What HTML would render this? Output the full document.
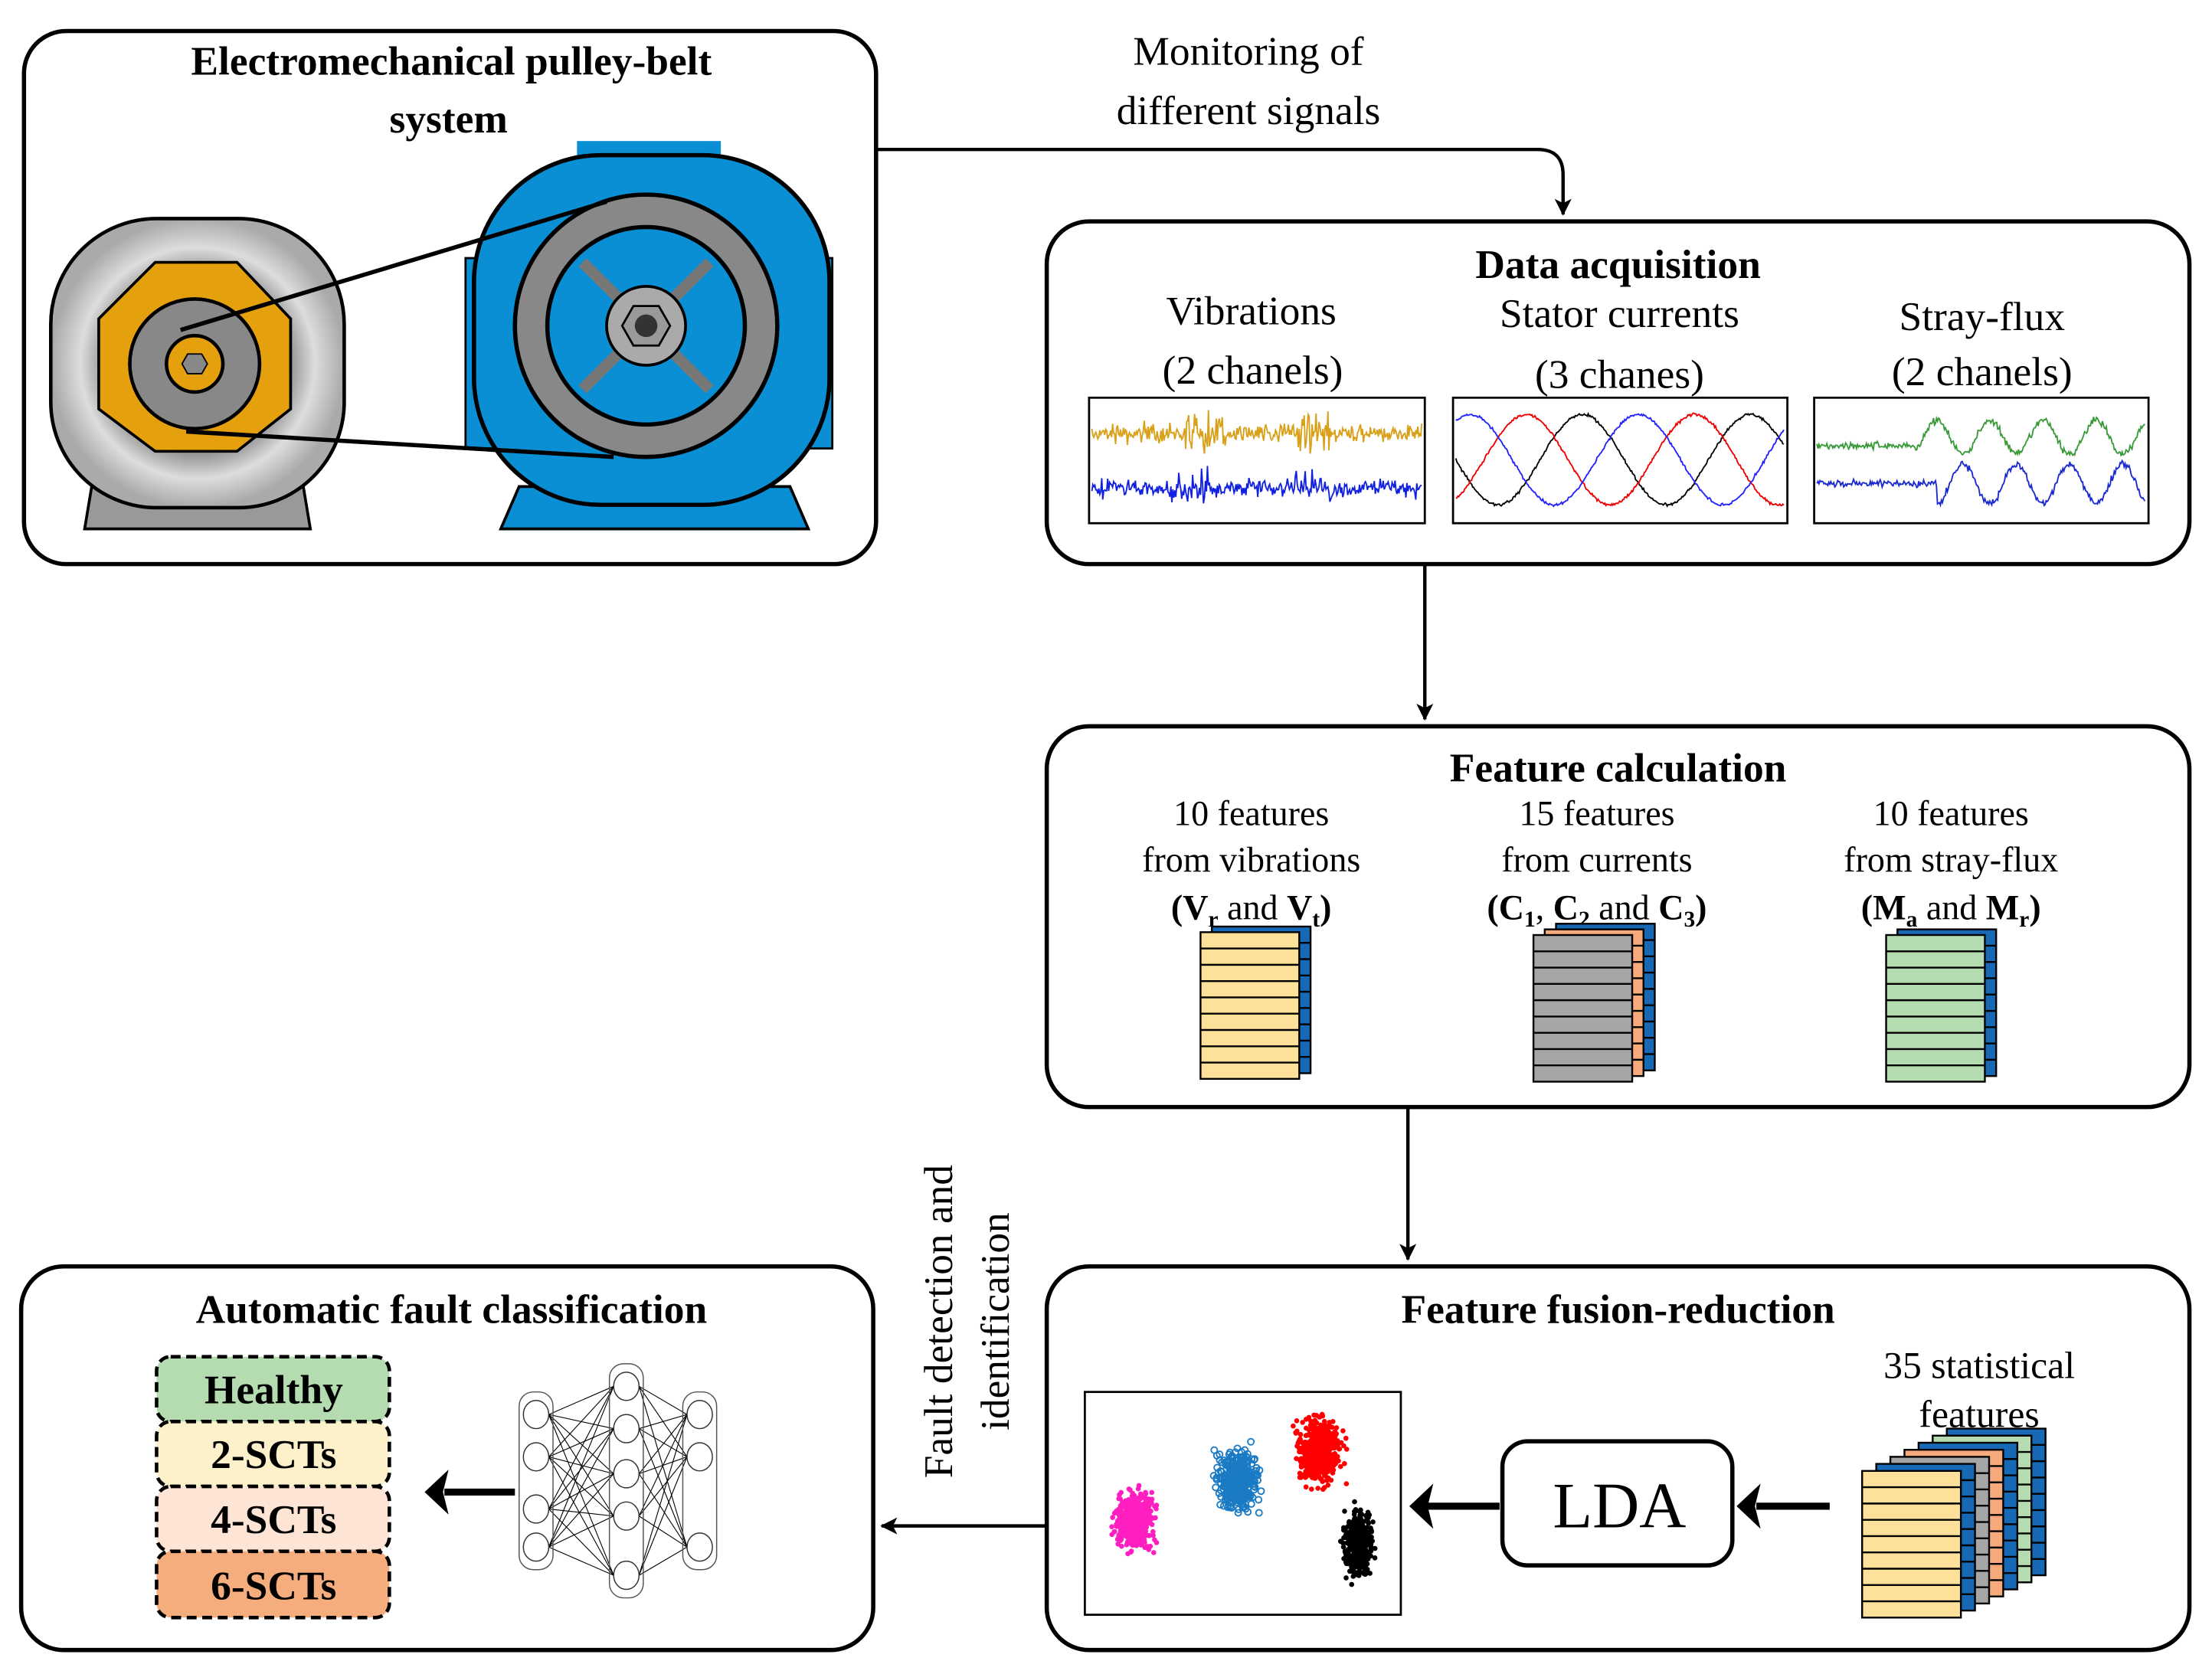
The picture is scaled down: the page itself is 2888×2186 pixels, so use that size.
<!DOCTYPE html>
<html><head><meta charset="utf-8"><style>
html,body{margin:0;padding:0;background:#fff}
svg{display:block}
svg text{font-family:"Liberation Serif","DejaVu Serif",serif;fill:#000}
.b{font-weight:bold}
</style></head><body>
<svg id="s" width="2888" height="2186" viewBox="0 0 1568 1187" preserveAspectRatio="none" xmlns="http://www.w3.org/2000/svg" font-family="Liberation Serif, DejaVu Serif, serif">
<defs>
<marker id="ah" markerWidth="12" markerHeight="12" refX="11" refY="6" orient="auto" markerUnits="userSpaceOnUse"><path d="M0,0 L12,6 L0,12 L3,6 Z" fill="#000"/></marker>
<radialGradient id="gg" cx="0.5" cy="0.5" r="0.5"><stop offset="0.6" stop-color="#888"/><stop offset="0.8" stop-color="#ddd"/><stop offset="1" stop-color="#aaa"/></radialGradient>
</defs>
<g fill="none" stroke="#000" stroke-width="3">
<rect x="17" y="22" width="604" height="378" rx="30"/>
<rect x="742" y="157" width="810" height="243" rx="30"/>
<rect x="742" y="515" width="810" height="270" rx="30"/>
<rect x="742" y="898" width="810" height="272" rx="30"/>
<rect x="15" y="898" width="604" height="272" rx="30"/>
</g>
<g stroke="#000" stroke-width="2.4" fill="none">
<path d="M621,106 H1090 Q1108,106 1108,124 V152" marker-end="url(#ah)"/>
<path d="M1010,400 V510" marker-end="url(#ah)"/>
<path d="M998,785 V893" marker-end="url(#ah)"/>
<path d="M742,1082 H625" marker-end="url(#ah)"/>
</g>
<text x="885" y="46" font-size="29" text-anchor="middle">Monitoring of</text>
<text x="885" y="88" font-size="29" text-anchor="middle">different signals</text>
<text transform="translate(675,937) rotate(-90)" font-size="29" text-anchor="middle">Fault detection and</text>
<text transform="translate(715,937) rotate(-90)" font-size="29" text-anchor="middle">identification</text>

<text class="b" x="320" y="53" font-size="29" text-anchor="middle">Electromechanical pulley-belt</text>
<text class="b" x="318" y="94" font-size="29" text-anchor="middle">system</text>
<path d="M60,375 L65,345 L215,345 L220,375 Z" fill="#999" stroke="#000" stroke-width="2"/>
<rect x="36" y="155" width="208" height="205" rx="75" fill="url(#gg)" stroke="#000" stroke-width="2.5"/>
<polygon points="110,186 168,186 206,226 206,290 168,320 110,320 70,290 70,226" fill="#e5a00d" stroke="#000" stroke-width="2"/>
<circle cx="138" cy="258" r="46" fill="#888" stroke="#000" stroke-width="2.5"/>
<circle cx="138" cy="258" r="20" fill="#e5a00d" stroke="#000" stroke-width="2.5"/>
<polygon points="133,251 143,251 147,258 143,265 133,265 129,258" fill="#888" stroke="#000"/>
<path d="M355,375 L368,345 L560,345 L573,375 Z" fill="#0a8fd4" stroke="#000" stroke-width="2"/>
<rect x="409" y="100" width="102" height="18" fill="#0a8fd4"/>
<rect x="330" y="183" width="20" height="135" fill="#0a8fd4" stroke="#000" stroke-width="1.5"/>
<rect x="570" y="183" width="20" height="135" fill="#0a8fd4" stroke="#000" stroke-width="1.5"/>
<rect x="336" y="110" width="252" height="248" rx="90" fill="#0a8fd4" stroke="#000" stroke-width="3"/>
<circle cx="458" cy="231" r="93" fill="#888" stroke="#000" stroke-width="3"/>
<circle cx="458" cy="231" r="70" fill="#0a8fd4" stroke="#000" stroke-width="3"/>
<g stroke="#777" stroke-width="8"><line x1="413" y1="186" x2="503" y2="276"/><line x1="503" y1="186" x2="413" y2="276"/></g>
<circle cx="458" cy="231" r="28" fill="#aaa" stroke="#000" stroke-width="2"/>
<polygon points="449,217 467,217 475,231 467,245 449,245 441,231" fill="#999" stroke="#000" stroke-width="1.5"/>
<circle cx="458" cy="231" r="8" fill="#333"/>
<g stroke="#000" stroke-width="3"><line x1="128" y1="234" x2="430" y2="143"/><line x1="132" y1="306" x2="435" y2="324"/></g>

<text class="b" x="1147" y="197" font-size="29" text-anchor="middle">Data acquisition</text>
<text x="887" y="230" font-size="29" text-anchor="middle">Vibrations</text>
<text x="888" y="272" font-size="29" text-anchor="middle">(2 chanels)</text>
<text x="1148" y="232" font-size="29" text-anchor="middle">Stator currents</text>
<text x="1148" y="275" font-size="29" text-anchor="middle">(3 chanes)</text>
<text x="1405" y="234" font-size="29" text-anchor="middle">Stray-flux</text>
<text x="1405" y="273" font-size="29" text-anchor="middle">(2 chanels)</text>
<g fill="none" stroke="#000" stroke-width="1.5">
<rect x="772" y="282" width="238" height="89"/>
<rect x="1030" y="282" width="237" height="89"/>
<rect x="1286" y="282" width="237" height="89"/>
</g>
<g id="waves"></g>

<text class="b" x="1147" y="554" font-size="29" text-anchor="middle">Feature calculation</text>
<g font-size="25" text-anchor="middle">
<text x="887" y="585">10 features</text><text x="887" y="618">from vibrations</text>
<text x="887" y="652" class="b">(V<tspan font-size="16" dy="5">r</tspan><tspan dy="-5" font-weight="normal"> and </tspan>V<tspan font-size="16" dy="5">t</tspan><tspan dy="-5">)</tspan></text>
<text x="1132" y="585">15 features</text><text x="1132" y="618">from currents</text>
<text x="1132" y="652" class="b">(C<tspan font-size="16" dy="5">1</tspan><tspan dy="-5" font-weight="normal">, </tspan>C<tspan font-size="16" dy="5">2</tspan><tspan dy="-5" font-weight="normal"> and </tspan>C<tspan font-size="16" dy="5">3</tspan><tspan dy="-5">)</tspan></text>
<text x="1383" y="585">10 features</text><text x="1383" y="618">from stray-flux</text>
<text x="1383" y="652" class="b">(M<tspan font-size="16" dy="5">a</tspan><tspan dy="-5" font-weight="normal"> and </tspan>M<tspan font-size="16" dy="5">r</tspan><tspan dy="-5">)</tspan></text>
</g>
<g id="stacks"></g>

<text class="b" x="1147" y="938" font-size="29" text-anchor="middle">Feature fusion-reduction</text>
<text x="1403" y="977" font-size="27" text-anchor="middle">35 statistical</text>
<text x="1403" y="1012" font-size="27" text-anchor="middle">features</text>
<rect x="769" y="987" width="224" height="158" fill="#fff" stroke="#000" stroke-width="1.5"/>
<g id="scatter"></g>
<rect x="1065" y="1022" width="163" height="88" rx="18" fill="#fff" stroke="#000" stroke-width="3"/>
<text x="1148" y="1083" font-size="46" text-anchor="middle">LDA</text>
<g stroke="#000" stroke-width="5"><line x1="1297" y1="1068" x2="1245" y2="1068"/><line x1="1063" y1="1068" x2="1012" y2="1068"/><line x1="365" y1="1058" x2="315" y2="1058"/></g>
<g fill="#000"><path d="M1231,1068 L1248,1052 L1244,1068 L1248,1084 Z"/><path d="M999,1068 L1016,1052 L1012,1068 L1016,1084 Z"/><path d="M301,1058 L318,1042 L314,1058 L318,1074 Z"/></g>

<text class="b" x="320" y="938" font-size="29" text-anchor="middle">Automatic fault classification</text>
<g stroke="#000" stroke-width="2.5" stroke-dasharray="7,4">
<rect x="111" y="962" width="165" height="46" rx="10" fill="#b5dcb0"/>
<rect x="111" y="1008" width="165" height="46" rx="10" fill="#fdf1cb"/>
<rect x="111" y="1054" width="165" height="46" rx="10" fill="#fde4d5"/>
<rect x="111" y="1100" width="165" height="47" rx="10" fill="#f6ad7e"/>
</g>
<g font-size="29" text-anchor="middle">
<text x="194" y="995" class="b">Healthy</text>
<text x="194" y="1041" class="b">2-SCTs</text>
<text x="194" y="1087" class="b">4-SCTs</text>
<text x="194" y="1134" class="b">6-SCTs</text>
</g>
<g id="nn"></g>
</svg>
<script>
var NS="http://www.w3.org/2000/svg";
function el(p,t,a){var e=document.createElementNS(NS,t);for(var k in a)e.setAttribute(k,a[k]);p.appendChild(e);return e;}
var seed=7;function r(){seed=(seed*16807)%2147483647;return seed/2147483647;}
function g(){return (r()+r()+r()+r()-2)*0.9;}
var W=document.getElementById('waves');
function line(x0,x1,f,col){var p=[];for(var x=x0;x<=x1;x+=0.7)p.push(x.toFixed(1)+','+f(x).toFixed(1));el(W,'polyline',{points:p.join(' '),fill:'none',stroke:col,'stroke-width':1});}
line(774,1008,function(x){var b=(x>840&&x<870)||(x>920&&x<945)?3:1.4;return 307+g()*4*b;},'#d9a019');
line(774,1008,function(x){var b=(x>830&&x<860)||(x>915&&x<945)?3:1.4;return 346+g()*4*b;},'#1020e0');
['#000','#e00','#22f'].forEach(function(c,i){line(1032,1265,function(x){return 326+32*Math.sin((x-1032)/19+i*2.09)+g();},c);});
line(1288,1521,function(x){var t=(x-1288);return 316-(t>70?12*Math.sin(t/6):0)-g()*2.5-(t>70?6:0);},'#3a9a3a');
line(1288,1521,function(x){var t=(x-1288);return 343+(t>85?14*Math.sin(t/6):0)+g()*2.5;},'#1a2ad0');
var S=document.getElementById('stacks');
function layer(x,y,w,h,col,n){el(S,'rect',{x:x,y:y,width:w,height:h,fill:col,stroke:'#000','stroke-width':1.3});for(var i=1;i<n;i++)el(S,'line',{x1:x,x2:x+w,y1:y+h*i/n,y2:y+h*i/n,stroke:'#000','stroke-width':1.3});}
function stack(x,y,cols,dx,dy){for(var i=cols.length-1;i>=0;i--){layer(x+i*dx,y-i*dy,70,104,cols[i],9);}}
stack(851,661,['#fde19a','#1769b5'],8,4);
stack(1087,663,['#a6a6a6','#f7ab7d','#1769b5'],8,4);
stack(1337,663,['#b5dcb0','#1769b5'],8,4);
stack(1320,1043,['#fde19a','#1769b5','#a6a6a6','#f7ab7d','#1769b5','#b5dcb0','#1769b5'],10,5);
var C=document.getElementById('scatter');
function cl(cx,cy,sx,sy,col,n,ring){for(var i=0;i<n;i++){var x=cx+g()*sx,y=cy+g()*sy;if(x<772||x>990||y<990||y>1142)continue;if(ring)el(C,'circle',{cx:x,cy:y,r:2.2,fill:'none',stroke:col,'stroke-width':1});else el(C,'circle',{cx:x,cy:y,r:1.8,fill:col});}}
cl(805,1078,12,18,'#ff1fc0',500);
cl(877,1050,12,18,'#1a7ac4',400,1);
cl(935,1030,14,20,'#f00',500);
cl(963,1095,9,22,'#000',400);
var N=document.getElementById('nn');
var L=[[380,[1003,1033,1070,1097]],[444,[983,1013,1045,1075,1117]],[496,[1003,1033,1097]]];
for(var a=0;a<2;a++)L[a][1].forEach(function(y1){L[a+1][1].forEach(function(y2){el(N,'line',{x1:L[a][0]+9,y1:y1,x2:L[a+1][0]-9,y2:y2,stroke:'#000','stroke-width':0.6});});});
L.forEach(function(l){el(N,'rect',{x:l[0]-12,y:l[1][0]-16,width:24,height:l[1][l[1].length-1]-l[1][0]+32,rx:10,fill:'none',stroke:'#555','stroke-width':0.8});l[1].forEach(function(y){el(N,'ellipse',{cx:l[0],cy:y,rx:9,ry:10,fill:'#fff',stroke:'#333','stroke-width':0.8});});});
</script>
</body></html>
